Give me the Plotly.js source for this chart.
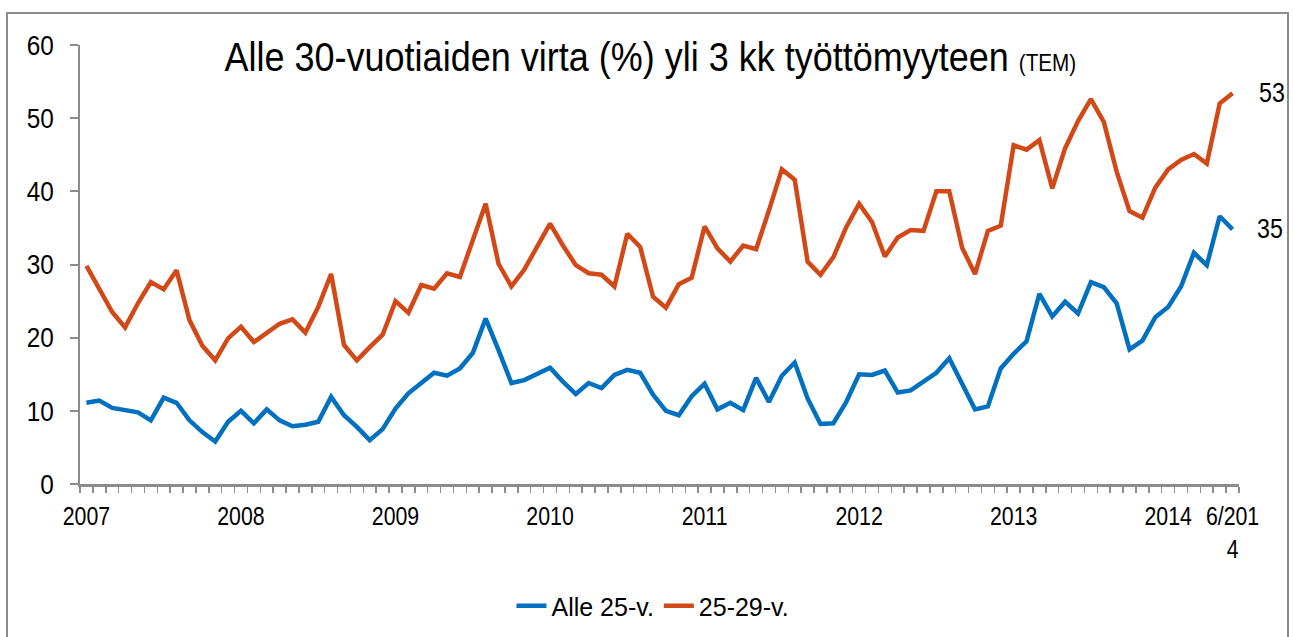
<!DOCTYPE html>
<html>
<head>
<meta charset="utf-8">
<script src="https://cdn.plot.ly/plotly-3.0.1.min.js"></script>
<style>
  html, body { margin: 0; padding: 0; background: #fff; }
  #wrap { position: relative; width: 1293px; height: 637px; overflow: hidden; }
  #chart { position: absolute; left: 0; top: 0; width: 1293px; height: 637px; }
  #frame { position: absolute; left: 6px; top: 12px; width: 1283px; height: 640px;
           border: 2px solid #8c8c8c; pointer-events: none; box-sizing: border-box; }
</style>
</head>
<body>
<div id="wrap"><div id="chart"></div><div id="frame"></div></div>
<script>
// Monthly categories 1/2007 .. 6/2014 (90 months), index positions
const months = Array.from({length: 90}, (_, i) => i);
const tickPositions = [0, 12, 24, 36, 48, 60, 72, 84, 89];
const tickLabels = ["2007", "2008", "2009", "2010", "2011", "2012", "2013", "2014", "6/201<br>4"];

const seriesNames = ["Alle 25-v.", "25-29-v."];

const alle25 = [
  11.1, 11.4, 10.4, 10.1, 9.8, 8.7, 11.8, 11.1, 8.7, 7.1, 5.8, 8.5,
  10.0, 8.3, 10.2, 8.7, 7.9, 8.1, 8.5, 11.9, 9.4, 7.8, 6.0, 7.5,
  10.3, 12.4, 13.8, 15.2, 14.8, 15.8, 17.9, 22.6, 18.3, 13.8, 14.2, 15.1,
  15.9, 14.0, 12.3, 13.8, 13.1, 14.9, 15.6, 15.2, 12.2, 10.0, 9.4, 12.0,
  13.7, 10.2, 11.1, 10.1, 14.5, 11.2, 14.8, 16.6, 11.7, 8.2, 8.3, 11.2,
  15.0, 14.9, 15.5, 12.5, 12.8, 14.0, 15.2, 17.2, 13.8, 10.2, 10.6, 15.8,
  17.8, 19.5, 26.0, 22.9, 24.9, 23.3, 27.6, 26.9, 24.7, 18.4, 19.6, 22.8,
  24.2, 27.0, 31.6, 29.9, 36.6, 34.8
];

const v25_29 = [
  29.8, 26.5, 23.5, 21.4, 24.7, 27.6, 26.6, 29.2, 22.4, 18.9, 16.9, 19.9,
  21.5, 19.4, 20.7, 21.9, 22.5, 20.7, 24.2, 28.7, 19.0, 16.9, 18.7, 20.4,
  25.0, 23.4, 27.2, 26.7, 28.8, 28.3, 33.3, 38.3, 30.1, 27.0, 29.3, 32.5,
  35.6, 32.6, 29.9, 28.8, 28.6, 27.0, 34.2, 32.4, 25.6, 24.1, 27.3, 28.2,
  35.2, 32.2, 30.4, 32.6, 32.1, 37.4, 43.0, 41.6, 30.4, 28.6, 31.0, 35.1,
  38.3, 35.8, 31.1, 33.7, 34.7, 34.6, 40.0, 40.0, 32.3, 28.7, 34.6, 35.3,
  46.3, 45.7, 47.0, 40.4, 45.9, 49.6, 52.6, 49.5, 42.7, 37.3, 36.4, 40.5,
  43.0, 44.3, 45.1, 43.8, 52.0, 53.4
];

const FONT = "'Liberation Sans Narrow', 'Arial Narrow', 'Liberation Sans', Arial, sans-serif";
const AXIS = "#8c8c8c";
const BLUE = "#0070C0";
const ORANGE = "#D34817";

const last = months.length - 1;

const traces = [
  { x: months, y: alle25, name: seriesNames[0], type: "scatter", mode: "lines",
    line: { color: BLUE, width: 4.5, shape: "linear" }, hoverinfo: "x+y" },
  { x: months, y: v25_29, name: seriesNames[1], type: "scatter", mode: "lines",
    line: { color: ORANGE, width: 4.5, shape: "linear" }, hoverinfo: "x+y" }
];

const layout = {
  width: 1293, height: 637,
  margin: { l: 80, r: 54, t: 45, b: 153, pad: 0 },
  paper_bgcolor: "#fff", plot_bgcolor: "#fff",
  font: { family: FONT, color: "#000", size: 26 },
  title: {
    text: "Alle 30-vuotiaiden virta (%) yli 3 kk työttömyyteen <span style='font-size:23px'>(TEM)</span>",
    font: { family: FONT, size: 40, color: "#000" },
    xref: "container", yref: "container", x: 0.503, xanchor: "center",
    y: 1 - 57 / 637, yanchor: "middle"
  },
  showlegend: true,
  legend: {
    orientation: "h", xref: "container", yref: "container",
    x: 0.505, xanchor: "center", y: 1 - 606 / 637, yanchor: "middle",
    font: { family: FONT, size: 25, color: "#000" },
    traceorder: "normal", bgcolor: "rgba(0,0,0,0)"
  },
  xaxis: {
    range: [-0.5, last + 0.5], fixedrange: true,
    tickmode: "array", tickvals: tickPositions, ticktext: tickLabels,
    ticks: "", showgrid: false, zeroline: false,
    showline: true, linecolor: AXIS, linewidth: 2.5,
    tickfont: { family: FONT, size: 26, color: "#000" },
    ticklabelstandoff: 7,
    minor: { tickmode: "linear", tick0: -0.5, dtick: 1, ticks: "outside",
             ticklen: 6, tickwidth: 1.5, tickcolor: AXIS, showgrid: false }
  },
  yaxis: {
    range: [0, 60], fixedrange: true,
    tickmode: "linear", tick0: 0, dtick: 10,
    ticks: "outside", ticklen: 8, tickwidth: 2, tickcolor: AXIS,
    showgrid: false, zeroline: false,
    showline: true, linecolor: AXIS, linewidth: 2.5,
    tickfont: { family: FONT, size: 28, color: "#000" },
    ticklabelstandoff: 10
  },
  annotations: [
    { x: months[last], y: v25_29[last], xref: "x", yref: "y",
      text: String(Math.round(v25_29[last])), showarrow: false,
      xanchor: "left", yanchor: "middle", xshift: 22,
      font: { family: FONT, size: 27, color: "#000" } },
    { x: months[last], y: alle25[last], xref: "x", yref: "y",
      text: String(Math.round(alle25[last])), showarrow: false,
      xanchor: "left", yanchor: "middle", xshift: 20,
      font: { family: FONT, size: 27, color: "#000" } }
  ]
};

// Narrow-font look: the condensed face is not installed, so squeeze the text horizontally
function squeeze(selector, k) {
  document.querySelectorAll(selector).forEach(t => {
    const x = parseFloat(t.getAttribute("x")) || 0;
    const tr = t.getAttribute("transform") || "";
    t.setAttribute("transform", tr + " translate(" + x + ",0) scale(" + k + ",1) translate(" + (-x) + ",0)");
  });
}

Plotly.newPlot("chart", traces, layout, { displayModeBar: false, staticPlot: true }).then(() => {
  squeeze("#chart .ytick text", 0.87);
  squeeze("#chart .xtick text", 0.82);
  squeeze("#chart .gtitle", 0.9);
  squeeze("#chart .annotation-text", 0.86);
});
</script>
</body>
</html>
